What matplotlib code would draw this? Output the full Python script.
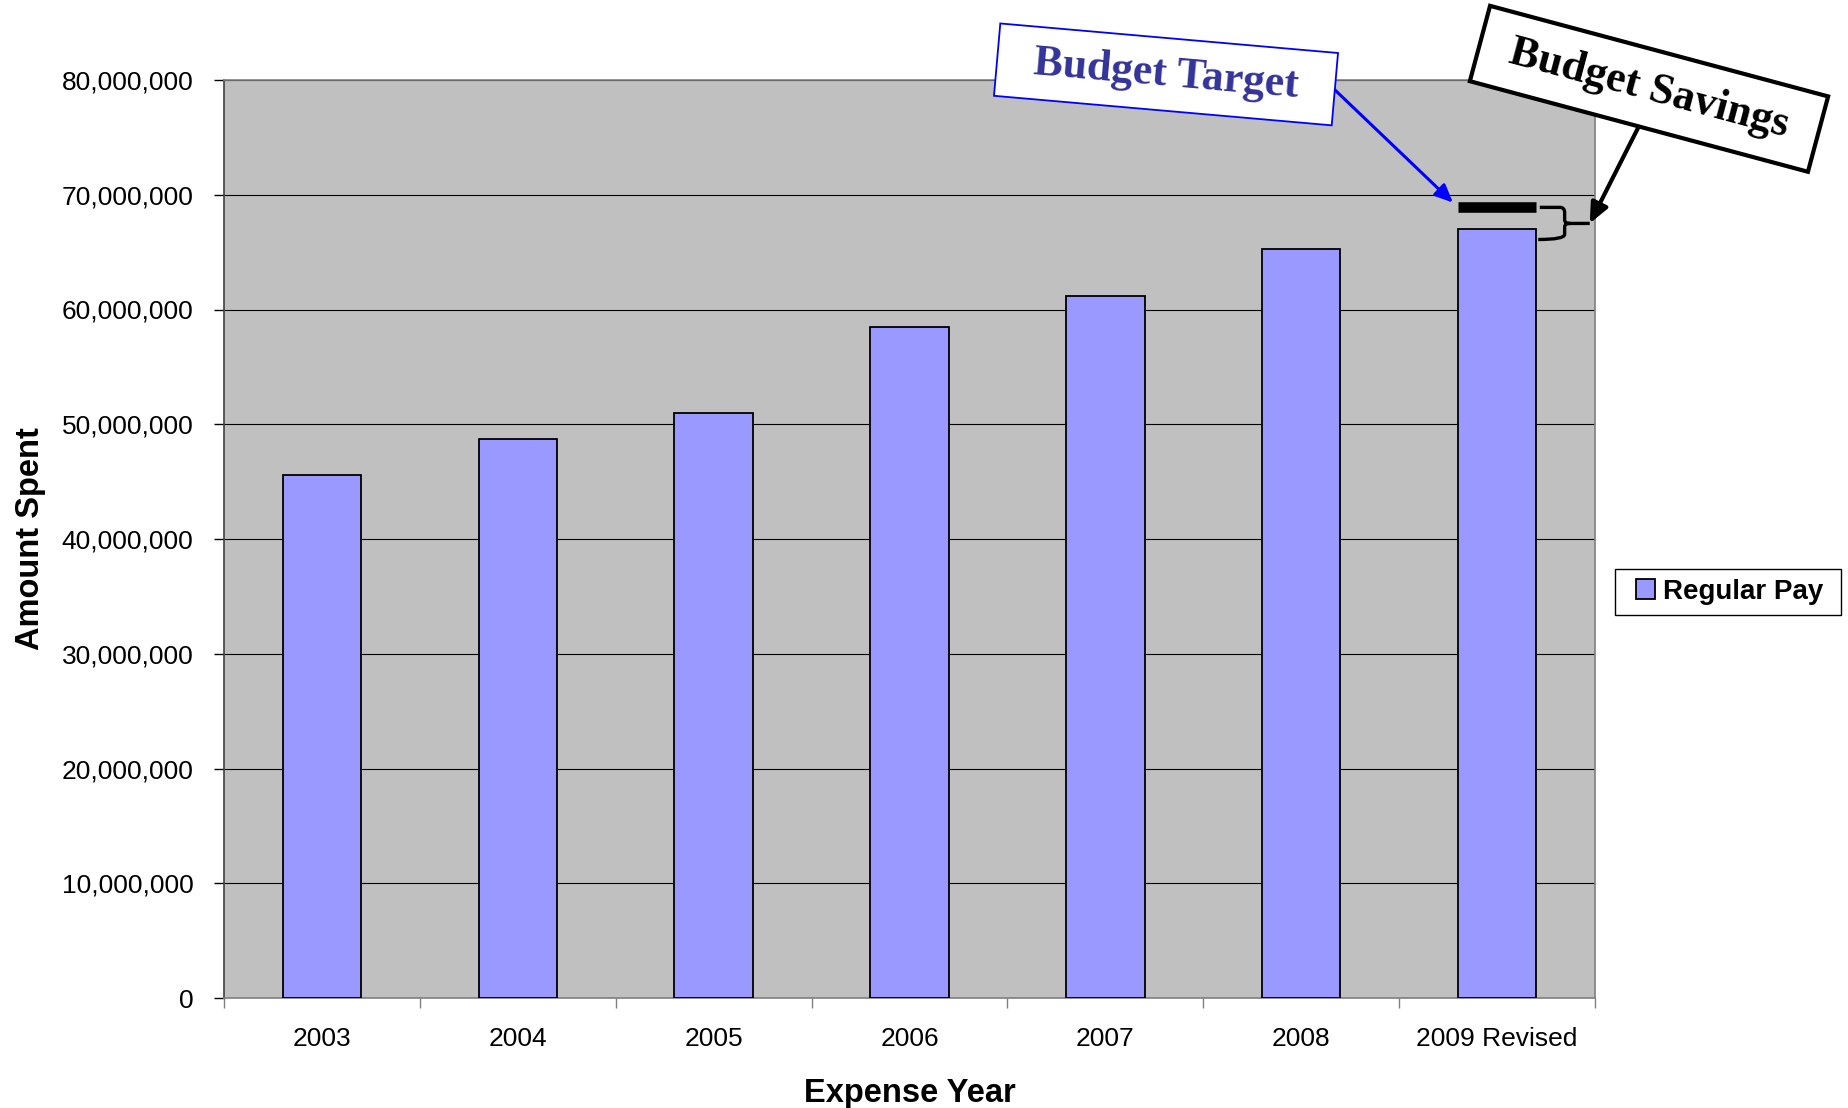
import numpy as np
import matplotlib.pyplot as plt
from matplotlib.patches import Polygon, PathPatch, Rectangle
from matplotlib.path import Path
from matplotlib.ticker import FuncFormatter, FixedLocator

plt.rcParams['font.family'] = ['Liberation Sans', 'DejaVu Sans']

# Regular pay by expense year
years = ['2003', '2004', '2005', '2006', '2007', '2008', '2009 Revised']
regular_pay = [45.6e6, 48.7e6, 51.0e6, 58.5e6, 61.2e6, 65.3e6, 67.0e6]
budget_target = 68.9e6

W, H = 1848, 1108
BAR_COLOR = '#9999FF'
PLOT_BG = '#C0C0C0'


def fig_xy(px, py):
    """Pixel position (origin top-left) -> figure fraction."""
    return px / W, 1 - py / H


def callout(fig, cx, cy, w, h, angle, text, color, edge, lw):
    """Rotated white box with a bold serif caption, positioned in pixels."""
    t = np.deg2rad(angle)
    c, s = np.cos(t), np.sin(t)
    pts = []
    for dx, dy in [(-w / 2, -h / 2), (w / 2, -h / 2), (w / 2, h / 2), (-w / 2, h / 2)]:
        # y grows downward in pixel space, so rotate with flipped sign
        px = cx + dx * c + dy * s
        py = cy - dx * s + dy * c
        pts.append(fig_xy(px, py))
    fig.add_artist(Polygon(pts, closed=True, facecolor='white', edgecolor=edge,
                           lw=lw, transform=fig.transFigure, zorder=5))
    fx, fy = fig_xy(cx, cy)
    fig.text(fx, fy, text, rotation=angle, rotation_mode='anchor',
             ha='center', va='center', fontsize=31.5, fontweight='bold',
             family=['Liberation Serif', 'DejaVu Serif'], color=color, zorder=6)


fig = plt.figure(figsize=(W / 100, H / 100), dpi=100)
l, b = 224 / W, 1 - 998 / H
ax = fig.add_axes([l, b, (1595 - 224) / W, (998 - 80) / H])
ax.set_facecolor(PLOT_BG)

x = np.arange(len(years))
bars = ax.bar(x, regular_pay, width=0.4, color=BAR_COLOR, edgecolor='black',
              linewidth=1.3, label='Regular Pay', zorder=3)

ax.set_xlim(-0.5, len(years) - 0.5)
ax.set_ylim(0, 80e6)
ax.set_yticks(np.arange(0, 80e6 + 1, 10e6))
ax.yaxis.set_major_formatter(FuncFormatter(lambda v, p: f'{v:,.0f}'))
ax.grid(axis='y', color='black', linewidth=0.8, zorder=1)
ax.set_axisbelow(True)

ax.set_xticks(x)
ax.set_xticklabels(years)
ax.xaxis.set_minor_locator(FixedLocator(np.arange(-0.5, len(years), 1.0)))
ax.tick_params(axis='x', which='major', length=0, pad=21, labelsize=19)
ax.tick_params(axis='x', which='minor', length=7, width=1, color='#808080')
ax.tick_params(axis='y', length=7, width=1, color='black', pad=15, labelsize=19)

for side in ['top', 'right', 'bottom']:
    ax.spines[side].set_color('#808080')
    ax.spines[side].set_linewidth(1.2)
ax.spines['left'].set_color('#404040')
ax.spines['left'].set_linewidth(1.2)

ax.set_xlabel('Expense Year', fontsize=23.5, fontweight='bold', labelpad=19)
ax.set_ylabel('Amount Spent', fontsize=23.5, fontweight='bold', labelpad=11)

# Legend entry, with its frame drawn as a separate box
fig.add_artist(Rectangle(fig_xy(1615, 615), 226 / W, 46 / H, facecolor='white',
                         edgecolor='black', lw=1.0, transform=fig.transFigure))
fig.legend(handles=[bars], loc='center left', bbox_to_anchor=fig_xy(1636, 592),
           prop={'weight': 'bold', 'size': 20}, frameon=False,
           handlelength=0.68, handleheight=0.72, handletextpad=0.3,
           borderpad=0, borderaxespad=0)

# Budget target marker above the last bar
last = x[-1]
ax.hlines(budget_target, last - 0.2, last + 0.2, color='black', lw=7.6,
          zorder=4)

# Curly brace spanning the gap between target and revised spending
top_y, low_y = budget_target, regular_pay[-1] - 0.9e6
mid_y = (top_y + low_y) / 2
bx, tip_x = last + 0.345, last + 0.473
r = 0.3e6
verts = [(last + 0.218, top_y), (last + 0.32, top_y), (bx, top_y), (bx, top_y - 1.5 * r),
         (bx, mid_y + r), (bx, mid_y), (last + 0.375, mid_y), (tip_x, mid_y),
         (last + 0.375, mid_y), (bx, mid_y), (bx, mid_y - r), (bx, low_y + 1.5 * r),
         (bx, low_y), (last + 0.21, low_y)]
codes = [Path.MOVETO, Path.LINETO, Path.CURVE3, Path.CURVE3,
         Path.LINETO, Path.CURVE3, Path.CURVE3, Path.LINETO,
         Path.MOVETO, Path.CURVE3, Path.CURVE3, Path.LINETO,
         Path.CURVE3, Path.CURVE3]
ax.add_patch(PathPatch(Path(verts, codes), facecolor='none', edgecolor='black',
                       lw=2.4, zorder=4, clip_on=False))

# Callout boxes with pointer arrows
callout(fig, 1166, 74.4, 339, 72.6, -5, 'Budget Target', '#333399', '#0000FF', 1.3)
callout(fig, 1649, 88.8, 350, 78, -15, 'Budget Savings', 'black', 'black', 3)

ax.annotate('', xy=(last - 0.2, budget_target), xytext=fig_xy(1335, 90),
            textcoords='figure fraction',
            arrowprops=dict(arrowstyle='-|>,head_length=0.4,head_width=0.18',
                            mutation_scale=27, color='#0000FF', lw=2.2,
                            shrinkA=0, shrinkB=5))
ax.annotate('', xy=(tip_x, mid_y), xytext=fig_xy(1638, 128),
            textcoords='figure fraction', annotation_clip=False,
            arrowprops=dict(arrowstyle='-|>,head_length=0.45,head_width=0.2',
                            mutation_scale=27, color='black', lw=3,
                            shrinkA=0, shrinkB=0))

fig.savefig('out.png', dpi=100)
